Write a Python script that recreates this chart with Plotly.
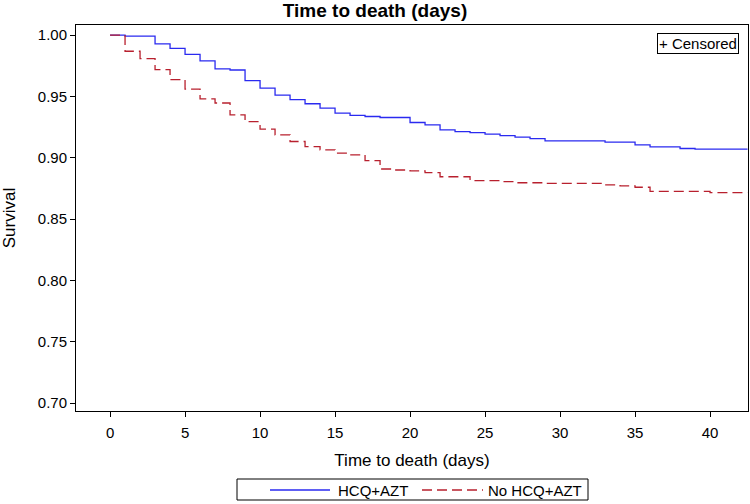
import plotly.graph_objects as go

# Kaplan-Meier step data
t_hcq = [0, 1, 3, 4, 5, 6, 7, 8, 9, 10, 11, 12, 13, 14, 15, 16, 17, 18, 20, 21, 22, 23,
         24, 25, 26, 27, 28, 29, 33, 35, 36, 38, 39, 42.5]
s_hcq = [1.0, 0.9992, 0.9928, 0.9892, 0.9843, 0.9789, 0.9724, 0.9715, 0.9628, 0.9568,
         0.9511, 0.9473, 0.944, 0.9405, 0.9364, 0.9345, 0.9336, 0.9328, 0.9287, 0.9268,
         0.9227, 0.9213, 0.9205, 0.9192, 0.918, 0.9168, 0.9156, 0.9137, 0.9127, 0.9105,
         0.9088, 0.9075, 0.907, 0.907]

t_no = [0, 1, 2, 3, 4, 5, 6, 7, 8, 9, 10, 11, 12, 13, 14, 15, 16, 17, 18, 19, 20, 21, 22,
        24, 26, 27, 29, 33, 34, 35, 36, 40, 42.5]
s_no = [1.0, 0.9868, 0.9808, 0.9718, 0.9636, 0.956, 0.948, 0.9446, 0.935, 0.9295, 0.9233,
        0.9186, 0.9132, 0.9091, 0.9064, 0.9037, 0.9023, 0.8976, 0.8908, 0.890, 0.8892,
        0.8878, 0.8845, 0.8813, 0.8805, 0.8796, 0.8791, 0.8778, 0.877, 0.8759, 0.8726,
        0.8715, 0.8715]

x_ticks = [0, 5, 10, 15, 20, 25, 30, 35, 40]
y_ticks = [0.70, 0.75, 0.80, 0.85, 0.90, 0.95, 1.00]
series_names = ["HCQ+AZT", "No HCQ+AZT"]

FONT = "Liberation Sans, Arial, sans-serif"
BLUE = "#2a2af0"
RED = "#b8202e"

# plot-area geometry (pixels) used to place the hand-drawn legend box
L, T, W, H = 76, 25, 672, 386


def px(x):
    return (x - L) / W


def py(y):
    return (T + H - y) / H


fig = go.Figure()
fig.add_trace(go.Scatter(x=t_hcq, y=s_hcq, mode="lines", name=series_names[0],
                         showlegend=False,
                         line=dict(shape="hv", color=BLUE, width=1.3)))
fig.add_trace(go.Scatter(x=t_no, y=s_no, mode="lines", name=series_names[1],
                         showlegend=False,
                         line=dict(shape="hv", color=RED, width=1.3, dash="10px,5px")))

axis_common = dict(showline=True, linecolor="black", linewidth=1, mirror=True,
                   ticks="outside", ticklen=5, tickcolor="black", showgrid=False,
                   zeroline=False, automargin=False,
                   tickfont=dict(family=FONT, size=15, color="black"))

fig.update_layout(
    width=750, height=504,
    margin=dict(l=L, r=750 - L - W, t=T, b=504 - T - H),
    paper_bgcolor="white", plot_bgcolor="white",
    font=dict(family=FONT, color="black"),
    title=dict(text="<b>Time to death (days)</b>", x=0.5, xanchor="center",
               y=1 - 10 / 504, yanchor="middle", yref="container",
               font=dict(family=FONT, size=19, color="black")),
    xaxis=dict(range=[-2.27, 42.53], tickvals=x_ticks, ticklabelstandoff=3,
               title=dict(text="Time to death (days)", font=dict(family=FONT, size=17),
                          standoff=14),
               **axis_common),
    yaxis=dict(range=[0.6935, 1.0082], tickvals=y_ticks, tickformat=".2f",
               title=dict(text="Survival", font=dict(family=FONT, size=17), standoff=18),
               **axis_common),
    showlegend=False,
)

# legend box drawn below the plot
fig.add_shape(type="rect", xref="paper", yref="paper",
              x0=px(237), x1=px(588), y0=py(479), y1=py(500),
              line=dict(color="black", width=1), fillcolor="white")
fig.add_shape(type="line", xref="paper", yref="paper",
              x0=px(270), x1=px(330), y0=py(490), y1=py(490),
              line=dict(color=BLUE, width=1.3))
fig.add_shape(type="line", xref="paper", yref="paper",
              x0=px(422), x1=px(483), y0=py(490), y1=py(490),
              line=dict(color=RED, width=1.3, dash="10px,5px"))
fig.add_annotation(text=series_names[0], xref="paper", yref="paper",
                   x=px(336), y=py(490), xanchor="left", yanchor="middle",
                   showarrow=False, font=dict(family=FONT, size=15, color="black"))
fig.add_annotation(text=series_names[1], xref="paper", yref="paper",
                   x=px(486), y=py(490), xanchor="left", yanchor="middle",
                   showarrow=False, font=dict(family=FONT, size=15, color="black"))

fig.add_annotation(text="+ Censored", xref="paper", yref="paper", x=0.987, y=0.979,
                   xanchor="right", yanchor="top", showarrow=False,
                   font=dict(family=FONT, size=15, color="black"),
                   bordercolor="black", borderwidth=1, borderpad=1, bgcolor="white")

fig.write_html("out.html", config={"displayModeBar": False},
               post_script="document.body.style.margin='0';document.body.style.overflow='hidden';")
